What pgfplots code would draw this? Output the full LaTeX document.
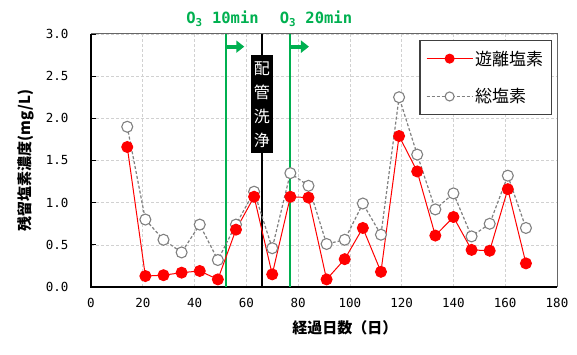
\documentclass[border=0pt]{standalone}
\usepackage{pgfplots}
\pgfplotsset{compat=1.18}
\usepackage{fontspec}
\setmainfont{Noto Sans CJK JP}
\newfontfamily\monof{DejaVu Sans Mono}
\usetikzlibrary{arrows.meta}
\definecolor{ogreen}{RGB}{0,176,80}
\definecolor{gline}{RGB}{128,128,128}

\pgfplotstableread{
day free total
14  1.66 1.90
21  0.13 0.80
28  0.14 0.56
35  0.17 0.41
42  0.19 0.74
49  0.09 0.32
56  0.68 0.74
63  1.07 1.13
70  0.15 0.46
77  1.07 1.35
84  1.06 1.20
91  0.09 0.51
98  0.33 0.56
105 0.70 0.99
112 0.18 0.62
119 1.79 2.25
126 1.37 1.57
133 0.61 0.92
140 0.83 1.11
147 0.44 0.60
154 0.43 0.75
161 1.16 1.32
168 0.28 0.70
}\datatable

\begin{document}
\begin{tikzpicture}
\begin{axis}[name=ax, scale only axis, width=466pt, height=253pt,
  xmin=0, xmax=180, ymin=0, ymax=3,
  xtick={0,20,...,180}, ytick={0,0.5,...,3},
  /pgf/number format/assume math mode=true,
  yticklabel style={/pgf/number format/fixed, /pgf/number format/fixed zerofill, /pgf/number format/precision=1, xshift=-19pt},
  ticklabel style={font=\monof\fontsize{12.5}{14}\selectfont},
  xticklabel style={yshift=-8pt},
  ytick style={black, line width=0.8pt}, major tick length=5pt,
  xtick style={draw=none},
  tick align=inside,
  ytick pos=left,
  grid=major, grid style={densely dashed, black!18, line width=0.6pt},
  axis line style={draw=none},
  xlabel={経過日数（日）},
  ylabel={残留塩素濃度(mg/L)},
  label style={font=\bfseries\fontsize{15}{17}\selectfont},
  xlabel style={at={(rel axis cs:0.545,0)}, anchor=north, yshift=-30pt},
  ylabel style={at={(rel axis cs:0,0.5)}, anchor=south, yshift=53pt},
  clip=false,
  reverse legend,
  legend style={at={(rel axis cs:0.989,0.976)}, anchor=north east,
    draw=black!75, line width=1.3pt, inner xsep=6pt, inner ysep=8pt,
    font=\fontsize{17}{19}\selectfont, row sep=18pt,
    legend cell align=left},
  legend image code/.code={
    \draw[mark repeat=2, mark phase=2, mark size=4.5pt] plot coordinates {(0pt,0pt) (23pt,0pt) (46pt,0pt)};},
]
% frame
\draw[black!60, line width=1pt] (rel axis cs:0,1) -- (rel axis cs:1,1) -- (rel axis cs:1,0);
\draw[black, line width=1.5pt] (rel axis cs:0,1) -- (rel axis cs:0,0) -- (rel axis cs:1,0);
% vertical event lines
\addplot[ogreen, line width=2.2pt, forget plot] coordinates {(52,0) (52,3)};
\addplot[ogreen, line width=2.2pt, forget plot] coordinates {(77,0) (77,3)};
\addplot[black, line width=2pt, forget plot] coordinates {(66,0) (66,3)};
\draw[ogreen, line width=4pt, -{Triangle[length=8pt, width=12pt]}] (axis cs:52,2.85) -- (axis cs:59.2,2.85);
\draw[ogreen, line width=4pt, -{Triangle[length=8pt, width=12pt]}] (axis cs:77,2.85) -- (axis cs:84.2,2.85);
\node[fill=black, text=white, inner sep=0pt, minimum width=22pt, minimum height=98pt, align=center,
  font=\fontsize{16}{24}\selectfont] at (axis cs:66,2.165) {配\\管\\洗\\浄};
\node[ogreen, font=\monof\bfseries\fontsize{15.5}{17}\selectfont, anchor=base] at (axis cs:50.8,3.13) {O\textsubscript{3} 10min};
\node[ogreen, font=\monof\bfseries\fontsize{15.5}{17}\selectfont, anchor=base] at (axis cs:86.9,3.13) {O\textsubscript{3} 20min};
% data
\addplot[gline, densely dashed, line width=1.2pt, mark=*, mark size=5.5pt,
  mark options={solid, fill=white, draw=gline, line width=1.1pt}] table[x=day, y=total] {\datatable};
\addlegendentry{総塩素}
\addplot[red, line width=1pt, mark=*, mark size=5.5pt,
  mark options={solid, fill=red, draw=red}] table[x=day, y=free] {\datatable};
\addlegendentry{遊離塩素}
\end{axis}
\pgfresetboundingbox
\path ([xshift=-91pt,yshift=-68pt]ax.south west) rectangle ([xshift=20pt,yshift=34pt]ax.north east);
\end{tikzpicture}
\end{document}
